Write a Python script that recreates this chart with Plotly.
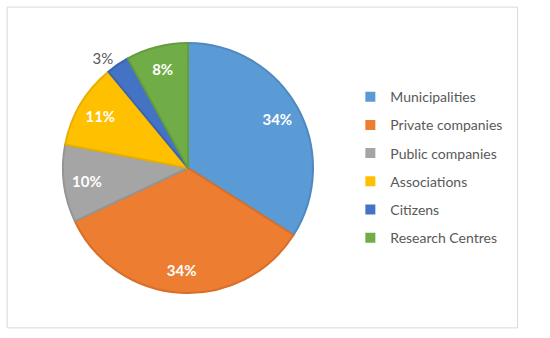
import plotly.graph_objects as go

categories = ["Municipalities", "Private companies", "Public companies",
              "Associations", "Citizens", "Research Centres"]
shares = [34, 34, 10, 11, 3, 8]
colors = ["#5B9BD5", "#ED7D31", "#A5A5A5", "#FFC000", "#4472C4", "#70AD47"]
edge_colors = ["#4F89BF", "#D86F28", "#959595", "#E8AF00", "#3C65AF", "#649C3F"]
text_pos = ["inside", "inside", "inside", "inside", "outside", "inside"]

FONT = "Lato, Liberation Sans, sans-serif"
DOMAIN = dict(x=[0.1145, 0.5691], y=[0.133, 0.873])

fig = go.Figure()
# coloured pie (no text)
fig.add_trace(go.Pie(
    labels=categories, values=shares, sort=False,
    direction="clockwise", rotation=0,
    marker=dict(colors=colors, line=dict(color=edge_colors, width=2)),
    textinfo="none", hoverinfo="label+percent",
    showlegend=False, domain=DOMAIN,
))
# transparent ring overlay carrying the percentage labels further out
fig.add_trace(go.Pie(
    labels=categories, values=shares, sort=False,
    direction="clockwise", rotation=0, hole=0.63,
    marker=dict(colors=["rgba(0,0,0,0)"] * len(shares),
                line=dict(width=0)),
    textposition=text_pos,
    texttemplate="%{percent:.0%}",
    insidetextorientation="horizontal",
    insidetextfont=dict(color="white", size=15, family=FONT, weight=700),
    outsidetextfont=dict(color="#595959", size=15, family=FONT),
    hoverinfo="skip", showlegend=False, domain=DOMAIN,
))
# legend entries
for name, col in zip(categories, colors):
    fig.add_trace(go.Scatter(
        x=[None], y=[None], mode="markers", name=name, legendgroup=name,
        marker=dict(symbol="square", size=10, color=col),
        hoverinfo="skip",
    ))

fig.update_layout(
    width=550, height=338,
    margin=dict(l=0, r=0, t=0, b=0),
    paper_bgcolor="white",
    plot_bgcolor="white",
    font=dict(family=FONT, color="#595959", size=14),
    showlegend=True,
    xaxis=dict(visible=False), yaxis=dict(visible=False),
    legend=dict(
        x=0.637, y=0.76, xanchor="left", yanchor="top",
        font=dict(size=14, color="#595959", family=FONT),
        bgcolor="rgba(0,0,0,0)", tracegroupgap=7,
    ),
    shapes=[dict(type="rect", xref="paper", yref="paper",
                 x0=0.013, x1=0.941, y0=0.03, y1=0.979,
                 line=dict(color="#D9D9D9", width=1))],
)

fig.write_html("out.html", config={"displayModeBar": False},
               post_script="document.body.style.margin='0';")
